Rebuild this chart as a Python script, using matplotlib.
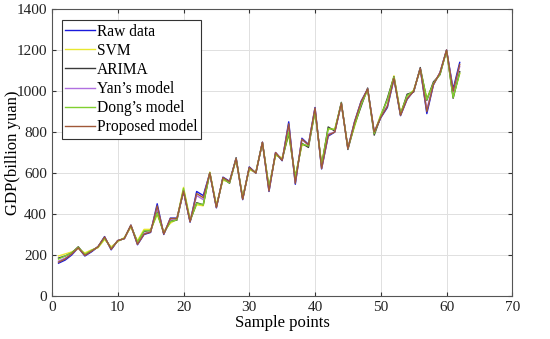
import matplotlib
matplotlib.use("Agg")
import matplotlib.pyplot as plt
import numpy as np

x = list(range(1, 63))
raw = [160,175,200,235,195,215,240,290,225,270,280,345,250,300,310,450,300,380,380,510,
       360,510,490,600,430,580,560,670,470,630,600,750,510,700,660,850,545,770,740,920,
       620,780,800,940,720,850,950,1010,800,870,920,1060,880,960,1000,1110,890,1030,1090,1200,
       1010,1140]
svm = [195,205,215,230,210,225,235,275,240,265,285,335,270,325,325,395,315,355,375,530,
       375,445,440,605,445,565,555,665,485,615,605,745,535,685,675,785,585,735,735,895,
       645,815,815,935,725,825,935,1005,795,885,955,1075,895,975,1005,1105,965,1035,1085,1195,
       975,1085]
arima = [185,195,210,240,200,220,240,285,230,270,280,345,260,315,320,410,305,365,370,515,
         365,455,445,600,435,575,550,675,475,625,600,750,525,695,665,795,575,745,725,905,
         635,825,805,945,715,835,925,1015,785,875,965,1070,885,985,995,1115,955,1045,1080,1200,
         965,1095]
yan = [170,185,205,235,200,220,240,285,230,270,280,345,255,305,315,430,305,375,375,515,
       365,490,470,600,435,575,555,670,475,625,600,750,515,700,665,830,555,765,735,915,
       625,790,800,940,720,845,945,1010,800,875,930,1065,885,965,1000,1110,910,1035,1090,1200,
       995,1120]
dong = [180,195,210,238,203,222,238,282,232,268,282,342,262,318,318,405,308,362,372,525,
        368,452,445,602,438,572,552,668,478,622,602,748,528,692,668,800,578,742,732,902,
        638,818,812,942,722,832,932,1008,792,882,958,1068,888,978,1002,1108,958,1038,1082,1198,
        968,1088]
proposed = [165,180,205,235,198,218,240,288,228,270,280,345,252,302,312,440,302,378,378,512,
            362,500,480,600,432,578,558,670,472,628,600,750,512,700,662,840,550,765,738,918,
            622,785,800,940,720,848,948,1010,800,872,925,1062,882,962,1000,1110,900,1032,1090,1200,
            1000,1130]

labels = ["Raw data", "SVM", "ARIMA", "Yan\u2019s model", "Dong\u2019s model", "Proposed model"]
colors = ["#1a1adc", "#e8e830", "#3a3a3a", "#b070e0", "#80d030", "#a05838"]

plt.rcParams['font.family'] = ['Liberation Serif', 'DejaVu Serif']
fig = plt.figure(figsize=(5.5, 3.39), dpi=100)
ax = fig.add_axes([0.0945, 0.127, 0.837, 0.846])

series = [raw, svm, arima, yan, dong, proposed]
for s, lab, c in zip(series, labels, colors):
    ax.plot(x, s, color=c, lw=1.0, label=lab)

ax.set_xlim(0, 70)
ax.set_ylim(0, 1400)
ax.set_xticks(range(0, 71, 10))
ax.set_yticks(range(0, 1401, 200))
ax.grid(True, color="#e0e0e0", lw=0.7)
ax.set_axisbelow(True)
ax.tick_params(direction='in', top=True, right=True, labelsize=11, length=3, colors="#333333", labelcolor="#222222")
for sp in ax.spines.values():
    sp.set_color("#555555")
    sp.set_linewidth(0.8)
ax.set_xlabel("Sample points", fontsize=12, labelpad=1)
ax.set_ylabel("GDP(billion yuan)", fontsize=12)
ax.yaxis.set_label_coords(-0.068, 0.5)
leg = ax.legend(loc='upper left', fontsize=11.2, handlelength=1.9, handletextpad=0.1,
                labelspacing=0.2, borderpad=0.25, fancybox=False, framealpha=1,
                edgecolor="#333333", bbox_to_anchor=(0.004, 0.99))
leg.get_frame().set_linewidth(0.8)
fig.savefig("out.png", dpi=100)
